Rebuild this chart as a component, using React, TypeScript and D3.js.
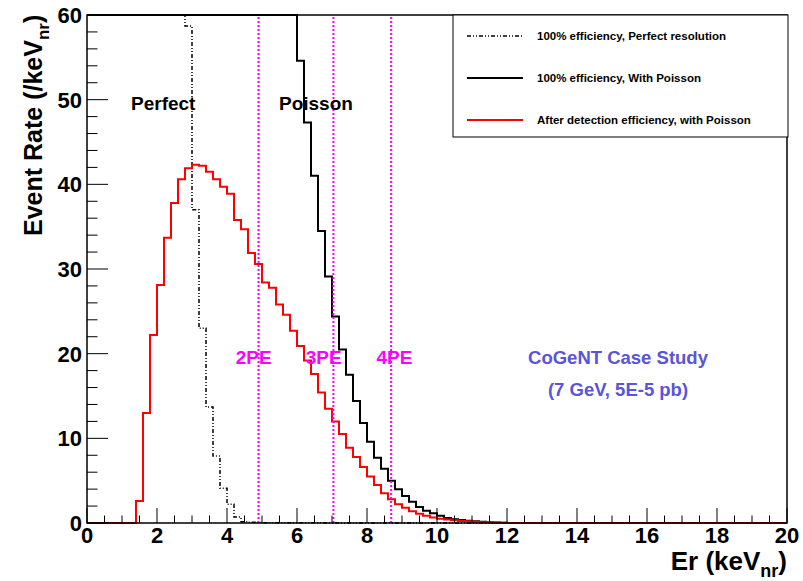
import React from "react";
import * as d3 from "d3";

// ---- data (bin width 0.2 keV, 100 bins from 0 to 20 keV) ----
const BIN_WIDTH = 0.2;
const N_BINS = 100;
const xTickLabels = ["0", "2", "4", "6", "8", "10", "12", "14", "16", "18", "20"];
const yTickLabels = ["0", "10", "20", "30", "40", "50", "60"];

// 100% efficiency, perfect resolution (values above 60 are off-scale)
const perfectVals = [
  400, 330, 270, 225, 190, 160, 140, 122, 108, 96, 86, 78, 70, 64,
  58.7, 37.0, 23.0, 13.7, 7.9, 4.1, 2.2, 0.7, 0.15, 0.08, 0.05, 0.04,
  0.03, 0.03, 0.03, 0.02, 0.02, 0.02, 0.02, 0.02, 0.01, 0.01, 0.01, 0.01,
  0.01, 0.01, 0.01, 0.01, 0.01, 0.01, 0.01, 0.01, 0.01, 0.01, 0.01, 0.01,
];
// 100% efficiency, with Poisson (values above 60 are off-scale)
const poissonVals = [
  300, 280, 260, 240, 220, 200, 185, 170, 158, 146, 136, 127, 119, 112, 106,
  100, 95, 90, 86, 82, 79, 76, 73, 71, 69, 67, 65, 64, 63, 62,
  54.6, 47.3, 41.0, 34.5, 29.1, 24.4, 20.5, 17.5, 14.4, 11.8,
  9.6, 7.7, 6.4, 5.0, 4.0, 3.2, 2.5, 1.9, 1.45, 1.15,
  0.85, 0.6, 0.45, 0.35, 0.28, 0.22, 0.15, 0.1, 0.07, 0.04,
];
// After detection efficiency, with Poisson
const effVals = [
  0, 0, 0, 0, 0, 0, 0,
  2.6, 13.0, 22.2, 28.1, 33.7, 37.8, 40.6, 41.9, 42.3, 42.2,
  41.5, 40.6, 39.7, 38.9, 35.8, 34.7, 31.9, 30.6, 28.4, 27.8,
  25.8, 24.6, 22.7, 20.9, 19.2, 17.6, 15.4, 13.5, 12.0, 10.5,
  8.9, 7.8, 6.6, 5.5, 4.5, 3.5, 2.8, 2.2, 1.8, 1.4,
  1.1, 0.85, 0.65, 0.5, 0.4, 0.32, 0.25, 0.2, 0.15, 0.1, 0.08, 0.05, 0.03,
];

const peLines = [4.9, 7.04, 8.69];
const peLabels = ["2PE", "3PE", "4PE"];
const peLabelX = [4.25, 6.25, 8.27];

const legendLabels = [
  "100% efficiency, Perfect resolution",
  "100% efficiency, With Poisson",
  "After detection efficiency, with Poisson",
];

const W = 803;
const H = 581;
const FL = 87, FR = 787, FT = 15, FB = 523;

const pad = (arr: number[]) => arr.concat(new Array(Math.max(0, N_BINS - arr.length)).fill(0));

export default function App() {
  const x = d3.scaleLinear().domain([0, 20]).range([FL, FR]);
  const y = d3.scaleLinear().domain([0, 60]).range([FB, FT]).clamp(true);

  const stepPath = (vals: number[]) => {
    const v = pad(vals);
    const pts: [number, number][] = [];
    v.forEach((val, i) => {
      pts.push([i * BIN_WIDTH, val]);
      pts.push([(i + 1) * BIN_WIDTH, val]);
    });
    return d3
      .line<[number, number]>()
      .x((d) => x(d[0]))
      .y((d) => y(d[1]))(pts) as string;
  };

  const xMajor = d3.range(0, 20.001, 2);
  const xMinor = d3.range(0, 20.001, 0.5).filter((t) => Math.abs(t / 2 - Math.round(t / 2)) > 1e-6);
  const yMajor = d3.range(0, 60.001, 10);
  const yMinor = d3.range(0, 60.001, 2).filter((t) => t % 10 !== 0);

  const font = "'Liberation Sans', Arial, Helvetica, sans-serif";
  const dashDot = "4,2,1,2,1,2";

  const legX0 = 453, legX1 = 788, legY0 = 15, legY1 = 137;
  const legRows = [36, 78, 120];
  const legStyles = [
    { stroke: "#000", dash: dashDot, w: 1.5 },
    { stroke: "#000", dash: "none", w: 2 },
    { stroke: "#ff0000", dash: "none", w: 2 },
  ];

  return (
    <svg
      width={W}
      height={H}
      style={{ position: "absolute", left: 0, top: 0, background: "#fff" }}
      fontFamily={font}
    >
      <rect x={0} y={0} width={W} height={H} fill="#fff" />
      <defs>
        <clipPath id="frameClip">
          <rect x={FL} y={FT - 1} width={FR - FL} height={FB - FT + 2} />
        </clipPath>
      </defs>

      {/* histograms */}
      <g clipPath="url(#frameClip)" fill="none">
        <path d={stepPath(perfectVals)} stroke="#000" strokeWidth={1.5} strokeDasharray={dashDot} />
        <path d={stepPath(poissonVals)} stroke="#000" strokeWidth={2} />
        <path d={stepPath(effVals)} stroke="#ff0000" strokeWidth={2} />
      </g>

      {/* PE lines */}
      {peLines.map((v, i) => (
        <line
          key={"pe" + i}
          x1={x(v)}
          x2={x(v)}
          y1={y(0)}
          y2={y(60)}
          stroke="#ff00ff"
          strokeWidth={2}
          strokeDasharray="2,2"
        />
      ))}

      {/* frame */}
      <rect x={FL} y={FT} width={FR - FL} height={FB - FT} fill="none" stroke="#000" strokeWidth={1.5} />

      {/* x ticks */}
      {xMajor.map((t) => (
        <line key={"xM" + t} x1={x(t)} x2={x(t)} y1={FB} y2={FB - 15} stroke="#000" strokeWidth={1} />
      ))}
      {xMinor.map((t) => (
        <line key={"xm" + t} x1={x(t)} x2={x(t)} y1={FB} y2={FB - 7.5} stroke="#000" strokeWidth={1} />
      ))}
      {/* y ticks */}
      {yMajor.map((t) => (
        <line key={"yM" + t} x1={FL} x2={FL + 21} y1={y(t)} y2={y(t)} stroke="#000" strokeWidth={1} />
      ))}
      {yMinor.map((t) => (
        <line key={"ym" + t} x1={FL} x2={FL + 10.5} y1={y(t)} y2={y(t)} stroke="#000" strokeWidth={1} />
      ))}

      {/* tick labels */}
      {xMajor.map((t, i) => (
        <text key={"xl" + t} x={x(t)} y={543} textAnchor="middle" fontSize={22} fontWeight="bold">
          {xTickLabels[i]}
        </text>
      ))}
      {yMajor.map((t, i) => (
        <text key={"yl" + t} x={FL - 5} y={y(t) + 8} textAnchor="end" fontSize={22} fontWeight="bold">
          {yTickLabels[i]}
        </text>
      ))}

      {/* axis titles */}
      <text x={FR} y={570} textAnchor="end" fontSize={26} fontWeight="bold">
        Er (keV
        <tspan fontSize={18} dy={7}>nr</tspan>
        <tspan dy={-7}>)</tspan>
      </text>
      <text transform="translate(42,236) rotate(-90)" textAnchor="start" fontSize={25} fontWeight="bold">
        Event Rate (/keV
        <tspan fontSize={17} dy={7}>nr</tspan>
        <tspan dy={-7}>)</tspan>
      </text>

      {/* annotations */}
      <text x={131} y={110} fontSize={19} fontWeight="bold">Perfect</text>
      <text x={279} y={110} fontSize={19} fontWeight="bold">Poisson</text>
      {peLabels.map((l, i) => (
        <text key={l} x={x(peLabelX[i])} y={364} fontSize={19} fontWeight="bold" fill="#ff00ff">
          {l}
        </text>
      ))}
      <text x={618} y={364} textAnchor="middle" fontSize={18.5} fontWeight="bold" fill="rgb(89,84,217)">
        CoGeNT Case Study
      </text>
      <text x={618} y={396} textAnchor="middle" fontSize={18.5} fontWeight="bold" fill="rgb(89,84,217)">
        (7 GeV, 5E-5 pb)
      </text>

      {/* legend */}
      <rect x={legX0} y={legY0} width={legX1 - legX0} height={legY1 - legY0} fill="#fff" stroke="#000" strokeWidth={1} />
      {legendLabels.map((l, i) => (
        <g key={l}>
          <line
            x1={467}
            x2={523}
            y1={legRows[i]}
            y2={legRows[i]}
            stroke={legStyles[i].stroke}
            strokeWidth={legStyles[i].w}
            strokeDasharray={legStyles[i].dash}
          />
          <text x={537} y={legRows[i] + 4} fontSize={11.5} fontWeight="bold">
            {l}
          </text>
        </g>
      ))}
    </svg>
  );
}
